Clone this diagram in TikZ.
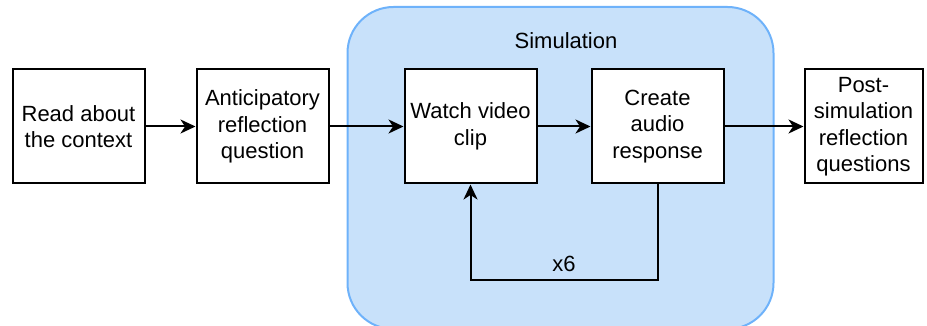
\documentclass[tikz,border=0pt]{standalone}
\usepackage{fontspec}
\setmainfont{Liberation Sans}
\usepackage{tikz}
\usetikzlibrary{positioning, arrows.meta}
\definecolor{simfill}{RGB}{200,225,250}
\definecolor{simdraw}{RGB}{110,178,250}
\tikzstyle{process} = [rectangle, minimum width=132pt, minimum height=114pt, text centered, align=center, draw=black, line width=2pt, fill=white, font=\fontsize{22}{26.5}\selectfont]
\tikzstyle{container} = [rectangle, rounded corners=46pt, minimum width=426pt, minimum height=322pt, draw=simdraw, line width=2pt, fill=simfill]
\tikzstyle{arrow} = [line width=2pt, -{Stealth[length=15pt, width=14pt, inset=4.5pt]}]

\begin{document}
\begin{tikzpicture}[node distance=50pt]
\useasboundingbox (0,0) rectangle (927pt,-326pt);
\node (sim) [container] at (560.5pt,-168pt) {};
\node (simtitle) at (566pt,-41pt) {\fontsize{22}{26}\selectfont Simulation};

\node (read) [process] at (78.5pt,-126.5pt) {Read about\\the context};
\node (antic) [process, right=of read] {Anticipatory\\reflection\\question};
\node (watch) [process, right=74pt of antic] {Watch video\\clip};
\node (create) [process, right=53pt of watch] {Create\\audio\\response};
\node (post) [process, right=79pt of create, minimum width=118pt] {Post-\\simulation\\reflection\\questions};

\draw [arrow] (read) -- (antic);
\draw [arrow] (antic) -- (watch);
\draw [arrow] (watch) -- (create);
\draw [arrow] (create) -- (post);
\draw [arrow] (create.south) -- ++(0,-95pt) -| node[pos=0.25, above=3pt, font=\fontsize{22}{26}\selectfont] {x6} (watch.south);

\end{tikzpicture}
\end{document}
